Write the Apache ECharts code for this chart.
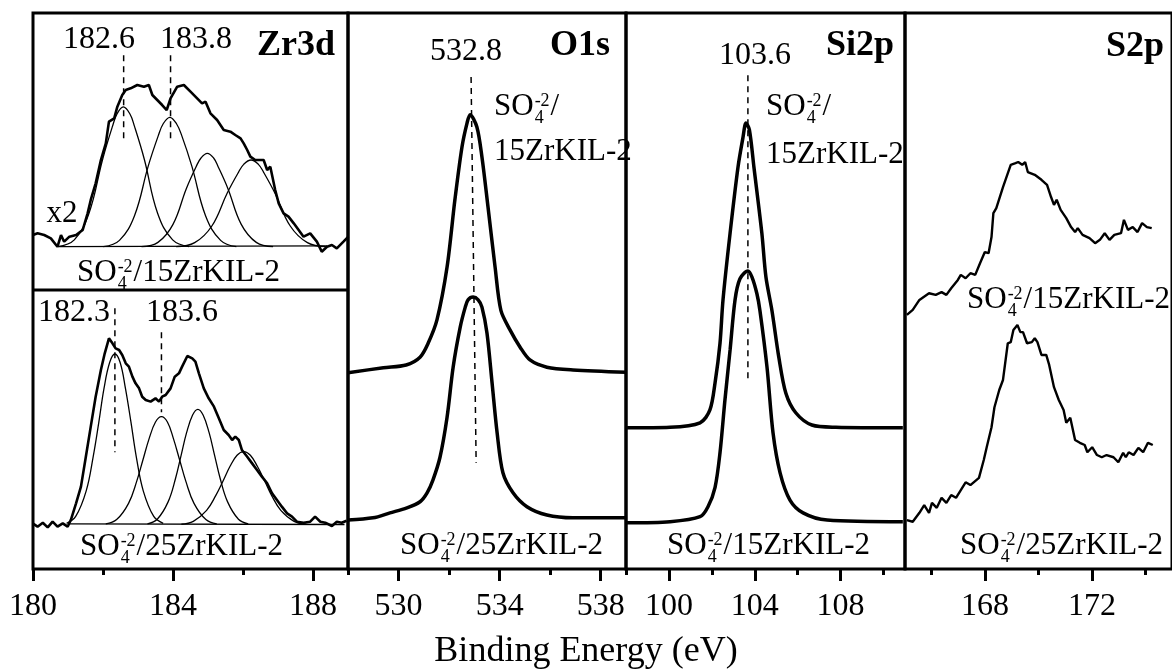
<!DOCTYPE html>
<html><head><meta charset="utf-8">
<script src="https://cdn.jsdelivr.net/npm/echarts@6/dist/echarts.min.js"></script>
<style>html,body{margin:0;padding:0;background:#fff}#c{width:1172px;height:671px}</style>
</head><body><div id="c"></div>
<script>
// ---------- tick labels ----------
const zrMajor = [180,184,188], zrMinor = [182,186];
const oMajor = [530,534,538], oMinor = [528,532,536];
const siMajor = [100,104,108], siMinor = [98,102,106,110];
const sMajor = [168,172], sMinor = [166,170,174];

// ---------- Zr3d (upper: SO4/15ZrKIL-2, x2) ----------
const zrTopEnv = [[180.00,60.07],[180.13,60.37],[180.32,60.07],[180.51,59.47],[180.70,57.97],[180.80,60.07],[180.89,58.87],[181.04,59.77],[181.23,60.07],[181.42,60.97],[181.56,63.97],[181.65,66.37],[181.79,69.36],[181.94,73.56],[182.08,76.56],[182.17,80.46],[182.32,81.06],[182.41,83.15],[182.55,85.25],[182.65,86.15],[182.79,86.45],[182.98,87.05],[183.17,86.75],[183.31,87.05],[183.41,85.25],[183.55,84.35],[183.69,83.45],[183.82,82.55],[183.93,84.65],[184.12,86.75],[184.31,87.05],[184.50,85.85],[184.69,84.65],[184.83,83.75],[184.93,84.05],[185.07,81.95],[185.26,80.76],[185.45,78.96],[185.64,78.66],[185.78,78.06],[185.93,77.46],[186.02,76.56],[186.12,75.36],[186.21,74.16],[186.35,73.56],[186.50,73.56],[186.59,73.56],[186.69,71.76],[186.78,72.36],[186.92,68.17],[187.02,65.77],[187.16,63.97],[187.30,63.37],[187.45,62.17],[187.59,60.97],[187.73,59.77],[187.92,60.37],[188.11,58.87],[188.25,57.07],[188.40,57.97],[188.54,58.27],[188.68,57.67],[188.87,58.87],[189.01,59.77]];
const zrTopBase = [[180.70,57.97],[188.40,58.1]];
const zrTopFit1 = [[180.70,57.97],[181.18,59.2],[181.60,64.0],[181.99,73.7],[182.27,79.6],[182.40,81.84],[182.58,83.1],[182.77,81.84],[182.90,79.6],[183.18,73.7],[183.56,64.0],[183.99,59.2],[184.46,58.0]];
const zrTopFit2 = [[182.01,57.97],[182.47,59.11],[182.90,63.55],[183.29,72.42],[183.58,77.94],[183.72,80.08],[183.91,81.24],[184.10,80.08],[184.25,77.94],[184.54,72.42],[184.93,63.55],[185.36,59.11],[185.81,57.97]];
const zrTopFit3 = [[183.10,57.97],[183.57,58.75],[184.00,61.99],[184.38,68.41],[184.66,72.36],[184.80,73.92],[184.98,74.76],[185.16,73.92],[185.29,72.36],[185.57,68.41],[185.95,61.99],[186.38,58.75],[186.86,57.97]];
const zrTopFit4 = [[184.09,57.97],[184.62,58.69],[185.11,61.69],[185.55,67.63],[185.87,71.34],[186.02,72.78],[186.23,73.56],[186.44,72.78],[186.59,71.34],[186.91,67.63],[187.35,61.69],[187.84,58.69],[188.37,57.97]];
const zrTopDashA = [[182.59,92.4],[182.59,76.8]];
const zrTopDashB = [[183.93,92.4],[183.93,77.2]];
const zrDivider = [[180,50.18],[189,50.18]];

// ---------- Zr3d (lower: SO4/25ZrKIL-2) ----------
const zrBotEnv = [[179.99,8.21],[180.13,7.61],[180.28,8.33],[180.42,7.49],[180.56,8.51],[180.70,7.61],[180.85,8.21],[180.99,7.61],[181.08,8.81],[181.23,11.81],[181.37,14.81],[181.51,20.20],[181.65,25.60],[181.79,30.99],[181.94,35.79],[182.05,38.79],[182.17,41.49],[182.27,40.59],[182.36,39.69],[182.46,39.39],[182.55,38.49],[182.65,36.99],[182.74,36.39],[182.84,34.59],[182.93,33.39],[183.03,32.49],[183.12,30.99],[183.22,30.40],[183.36,30.10],[183.50,30.70],[183.60,30.10],[183.69,30.99],[183.79,31.29],[183.93,32.49],[184.05,34.59],[184.17,35.19],[184.26,36.39],[184.41,38.31],[184.55,37.89],[184.64,37.29],[184.74,35.19],[184.88,32.49],[185.02,30.70],[185.17,29.20],[185.31,27.10],[185.45,25.00],[185.59,24.10],[185.69,23.20],[185.78,23.80],[185.88,23.20],[185.97,21.40],[186.12,20.20],[186.26,19.00],[186.40,17.81],[186.54,16.61],[186.69,15.41],[186.83,13.61],[186.97,12.41],[187.11,11.21],[187.26,10.01],[187.40,9.41],[187.54,8.51],[187.73,8.33],[187.92,8.51],[188.06,9.41],[188.21,8.51],[188.35,8.33],[188.54,7.73],[188.68,8.51],[188.82,8.33],[188.96,8.69]];
const zrBotBase = [[181.0,8.1],[188.9,8.0]];
const zrBotFit1 = [[180.96,8.22],[181.22,9.45],[181.52,14.06],[181.72,20.22],[181.88,26.37],[182.03,32.52],[182.19,37.14],[182.34,38.67],[182.49,37.14],[182.64,32.52],[182.80,26.37],[182.95,20.22],[183.15,14.06],[183.45,9.45],[183.72,8.22]];
const zrBotFit2 = [[182.08,8.11],[182.39,8.89],[182.73,11.81],[182.96,15.71],[183.14,19.60],[183.32,23.50],[183.50,26.43],[183.67,27.40],[183.84,26.43],[184.01,23.50],[184.19,19.60],[184.37,15.71],[184.60,11.81],[184.94,8.89],[185.25,8.11]];
const zrBotFit3 = [[183.27,8.12],[183.55,8.95],[183.86,12.07],[184.07,16.23],[184.23,20.40],[184.39,24.56],[184.56,27.69],[184.71,28.72],[184.86,27.69],[185.03,24.56],[185.19,20.40],[185.35,16.23],[185.56,12.07],[185.87,8.95],[186.15,8.12]];
const zrBotFit4 = [[184.24,8.05],[184.58,8.57],[184.96,10.55],[185.22,13.19],[185.43,15.83],[185.63,18.47],[185.83,20.45],[186.02,21.10],[186.21,20.45],[186.41,18.47],[186.62,15.83],[186.82,13.19],[187.08,10.55],[187.46,8.57],[187.81,8.05]];
const zrBotDashA = [[182.34,46.9],[182.34,21.0]];
const zrBotDashB = [[183.67,42.6],[183.67,28.2]];

// ---------- O1s ----------
const o1sTop = [[528.0,35.3],[529.4,36.2],[530.3,36.7],[530.85,38.1],[531.17,40.6],[531.52,44.8],[531.92,54.3],[532.23,66.4],[532.51,75.9],[532.71,80.2],[532.83,81.7],[533.10,79.5],[533.30,74.1],[533.54,65.1],[533.82,54.3],[534.05,46.5],[534.41,43.0],[534.81,39.9],[535.20,37.6],[535.87,36.3],[536.90,35.8],[539.0,35.4]];
const o1sBot = [[528.0,8.8],[528.99,9.2],[529.66,10.1],[530.33,11.0],[530.85,12.1],[531.13,13.7],[531.36,16.0],[531.64,20.1],[531.92,27.3],[532.16,36.3],[532.44,43.5],[532.64,47.1],[532.75,48.4],[532.95,48.9],[533.15,48.4],[533.30,47.1],[533.50,42.4],[533.70,33.5],[533.90,24.5],[534.13,17.3],[534.53,13.7],[535.08,11.2],[535.87,9.7],[536.90,9.2],[539.0,9.2]];
const o1sDash = [[532.87,88.5],[533.07,19.1]];

// ---------- Si2p ----------
const si2pTop = [[98.05,25.4],[100.05,25.5],[101.45,26.3],[101.91,28.6],[102.15,33.5],[102.38,40.6],[102.52,48.4],[102.85,60.4],[103.22,72.3],[103.45,77.6],[103.59,80.2],[103.75,79.0],[103.96,72.3],[104.33,60.4],[104.52,52.5],[104.80,46.5],[105.12,38.1],[105.45,31.6],[105.91,28.1],[106.66,25.9],[107.78,25.5],[110.9,25.4]];
const si2pBot = [[98.05,8.3],[100.05,8.5],[101.45,9.4],[101.82,11.2],[102.15,14.7],[102.38,20.9],[102.61,30.4],[102.85,39.4],[103.08,48.4],[103.31,52.2],[103.68,53.6],[103.87,52.5],[104.10,49.5],[104.24,46.5],[104.57,36.3],[104.85,24.5],[105.18,17.3],[105.64,12.4],[106.25,10.1],[107.37,8.8],[110.9,8.5]];
const si2pDash = [[103.68,88.8],[103.68,33.6]];

// ---------- S2p ----------
const s2pTop = [[165.07,45.7],[165.29,46.6],[165.54,48.4],[165.90,49.6],[166.15,49.3],[166.37,49.8],[166.55,49.3],[166.73,50.5],[166.98,52.0],[167.09,52.9],[167.27,52.3],[167.45,53.2],[167.63,52.9],[167.81,55.0],[167.99,57.0],[168.13,56.8],[168.24,59.7],[168.31,64.0],[168.42,64.9],[168.67,68.7],[168.96,72.7],[169.14,73.0],[169.24,73.2],[169.39,72.7],[169.50,73.2],[169.60,71.4],[169.86,70.9],[170.11,70.0],[170.32,69.1],[170.47,66.9],[170.58,65.5],[170.68,66.4],[170.83,64.6],[171.04,63.1],[171.22,61.5],[171.37,60.6],[171.47,61.3],[171.65,60.1],[171.91,59.5],[172.12,58.6],[172.30,59.2],[172.48,60.4],[172.66,59.2],[172.84,60.1],[173.09,60.4],[173.20,62.8],[173.35,61.0],[173.53,61.5],[173.71,60.6],[173.88,62.2],[174.06,61.5],[174.24,61.3]];
const s2pBot = [[165.07,8.8],[165.29,8.5],[165.54,10.1],[165.72,11.5],[165.90,10.1],[166.01,11.9],[166.19,11.0],[166.37,12.8],[166.55,11.9],[166.73,13.3],[166.91,12.8],[167.09,14.2],[167.27,15.6],[167.45,15.1],[167.77,16.4],[167.95,19.6],[168.06,21.9],[168.24,25.5],[168.35,29.1],[168.53,32.2],[168.67,34.0],[168.85,40.6],[168.96,40.8],[169.06,43.0],[169.21,43.9],[169.32,42.6],[169.42,42.6],[169.57,40.6],[169.75,40.8],[169.86,41.5],[169.96,40.8],[170.11,38.5],[170.29,38.5],[170.40,36.7],[170.58,32.7],[170.76,30.4],[170.94,28.6],[171.04,26.3],[171.19,27.2],[171.37,23.2],[171.55,22.7],[171.73,22.3],[171.83,21.0],[172.01,21.9],[172.19,20.5],[172.37,20.1],[172.55,20.5],[172.81,20.1],[172.99,19.2],[173.17,20.9],[173.27,20.1],[173.38,21.0],[173.56,20.5],[173.74,21.8],[173.92,21.0],[174.10,22.7],[174.28,22.3]];

// ---------- build ----------
const FONT = '"Liberation Serif","Times New Roman",serif';
const panels = [
  {left:33,  width:315, min:180, max:189, major:zrMajor, minor:zrMinor},
  {left:348, width:278, min:528, max:539, major:oMajor,  minor:oMinor},
  {left:626, width:279, min:98,  max:111, major:siMajor, minor:siMinor},
  {left:905, width:278, min:165, max:175, major:sMajor,  minor:sMinor}
];
const grid = [], xAxis = [], yAxis = [];
panels.forEach((p, g) => {
  grid.push({left:p.left, top:13, width:p.width, height:556, show:true, borderColor:'#000', borderWidth:3, backgroundColor:'transparent'});
  xAxis.push({gridIndex:g, type:'value', min:p.min, max:p.max, position:'bottom',
    axisLine:{show:false}, splitLine:{show:false},
    axisTick:{show:true, inside:false, length:12, lineStyle:{color:'#000', width:3}, customValues:p.major},
    axisLabel:{show:true, customValues:p.major, margin:22, fontSize:32, fontFamily:FONT, color:'#000'}});
  xAxis.push({gridIndex:g, type:'value', min:p.min, max:p.max, position:'bottom',
    axisLine:{show:false}, splitLine:{show:false},
    axisTick:{show:true, inside:false, length:6, lineStyle:{color:'#000', width:3}, customValues:p.minor},
    axisLabel:{show:false}});
  yAxis.push({gridIndex:g, type:'value', min:0, max:100, show:false});
});
function L(g, data, w, extra){
  return Object.assign({type:'line', xAxisIndex:2*g, yAxisIndex:g, data:data, symbol:'none', showSymbol:false,
    lineStyle:{color:'#000', width:w}, silent:true, animation:false}, extra||{});
}
function D(g, data){ return L(g, data, 1.5, {lineStyle:{color:'#000', width:1.5, type:[6,5]}}); }
const fitOpt = {smooth:0.4};
const series = [
  L(0, zrTopBase, 1.3), L(0, zrTopFit1, 1.3, fitOpt), L(0, zrTopFit2, 1.3, fitOpt), L(0, zrTopFit3, 1.3, fitOpt), L(0, zrTopFit4, 1.3, fitOpt),
  L(0, zrTopEnv, 2.6), D(0, zrTopDashA), D(0, zrTopDashB),
  L(0, zrDivider, 3),
  L(0, zrBotBase, 1.3), L(0, zrBotFit1, 1.3, fitOpt), L(0, zrBotFit2, 1.3, fitOpt), L(0, zrBotFit3, 1.3, fitOpt), L(0, zrBotFit4, 1.3, fitOpt),
  L(0, zrBotEnv, 2.6), D(0, zrBotDashA), D(0, zrBotDashB),
  L(1, o1sTop, 3.5, {smooth:0.3}), L(1, o1sBot, 3.5, {smooth:0.3}), D(1, o1sDash),
  L(2, si2pTop, 3.5, {smooth:0.3}), L(2, si2pBot, 3.5, {smooth:0.3}), D(2, si2pDash),
  L(3, s2pTop, 2.4), L(3, s2pBot, 2.4)
];

// ---------- text ----------
const cv = document.createElement('canvas').getContext('2d');
function tw(t, size, weight){ cv.font = (weight||'normal') + ' ' + size + 'px ' + FONT; return cv.measureText(t).width; }
function T(text, x, y, size, opt){
  opt = opt || {};
  return {type:'text', x:x, y:y, z:100, silent:true,
    style:{text:text, fontSize:size, fontFamily:FONT, fontWeight:opt.weight||'normal', fill:'#000',
      align:opt.align||'left', verticalAlign:'middle'}};
}
function SO(x, yc, rest, size){
  const s = size || 31, ss = Math.round(s*0.57);
  const w1 = tw('SO', s);
  const wSup = tw('-2', ss), wSub = tw('4', ss);
  const out = [T('SO', x, yc, s), T('-2', x + w1 + 1, yc - 0.2*s, ss), T('4', x + w1 + 1, yc + 0.37*s, ss)];
  out.push(T(rest, x + w1 + Math.max(wSup, wSub) + 2, yc, s));
  return out;
}
const graphic = [].concat(
  T('182.6', 99, 40, 32, {align:'center'}), T('183.8', 196, 40, 32, {align:'center'}),
  T('Zr3d', 296, 46, 36, {align:'center', weight:'bold'}),
  T('x2', 62, 214, 31, {align:'center'}),
  SO(77, 273, '/15ZrKIL-2'),
  T('182.3', 74, 313, 32, {align:'center'}), T('183.6', 182, 313, 32, {align:'center'}),
  SO(80, 547, '/25ZrKIL-2'),
  T('532.8', 466, 52, 32, {align:'center'}),
  T('O1s', 580, 46, 36, {align:'center', weight:'bold'}),
  SO(494, 107, '/'), T('15ZrKIL-2', 494, 152, 31),
  SO(400, 546, '/25ZrKIL-2'),
  T('103.6', 755, 56, 32, {align:'center'}),
  T('Si2p', 860, 46, 36, {align:'center', weight:'bold'}),
  SO(766, 107, '/'), T('15ZrKIL-2', 766, 155, 31),
  SO(667, 546, '/15ZrKIL-2'),
  T('S2p', 1135, 47, 36, {align:'center', weight:'bold'}),
  SO(967, 300, '/15ZrKIL-2'),
  SO(960, 546, '/25ZrKIL-2'),
  T('Binding Energy (eV)', 586, 652, 36, {align:'center'})
);

const chart = echarts.init(document.getElementById('c'), null, {renderer:'canvas'});
chart.setOption({backgroundColor:'#fff', animation:false, grid, xAxis, yAxis, series, graphic});
</script>
</body></html>
